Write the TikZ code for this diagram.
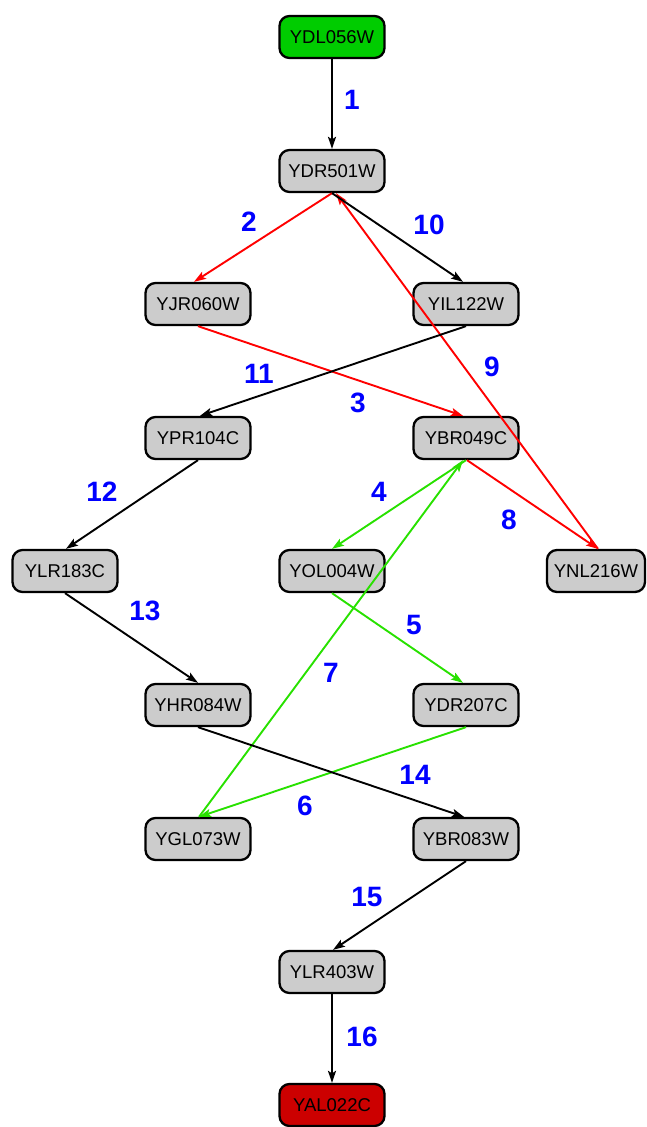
\documentclass[tikz,border=0pt]{standalone}
\usepackage{fontspec}
\setmainfont{Liberation Sans}
\usetikzlibrary{arrows.meta}
\definecolor{gfill}{RGB}{0,204,0}
\definecolor{rfill}{RGB}{204,0,0}
\definecolor{nfill}{RGB}{204,204,204}
\definecolor{gedge}{RGB}{40,225,0}
\definecolor{redge}{RGB}{255,0,0}
\definecolor{lblue}{RGB}{0,0,255}
\tikzset{
  gene/.style={draw=black, line width=2.3pt, fill=nfill, rounded corners=10pt,
    minimum width=105pt, minimum height=42pt, inner sep=0pt,
    font=\fontsize{18.5}{20}\selectfont},
  src/.style={gene, fill=gfill},
  dst/.style={gene, fill=rfill},
  link/.style={line width=1.9pt, -{Stealth[length=12pt,width=8pt,inset=2.5pt]}},
  black link/.style={link, draw=black},
  red link/.style={link, draw=redge},
  green link/.style={link, draw=gedge},
  num/.style={text=lblue, font=\fontsize{28}{30}\selectfont\bfseries}
}
\begin{document}
\begin{tikzpicture}[x=1pt, y=-1pt]
\useasboundingbox (0,0) rectangle (646,1127);

% genes
\node[src]  (ydl056w) at (332,37)   {YDL056W};
\node[gene] (ydr501w) at (332,171)  {YDR501W};
\node[gene] (yjr060w) at (198,304)  {YJR060W};
\node[gene] (yil122w) at (466,304)  {YIL122W};
\node[gene] (ypr104c) at (198,438)  {YPR104C};
\node[gene] (ybr049c) at (466,438)  {YBR049C};
\node[gene] (ylr183c) at (65,571)   {YLR183C};
\node[gene] (yol004w) at (332,571)  {YOL004W};
\node[gene, minimum width=98pt] (ynl216w) at (596,571) {YNL216W};
\node[gene] (yhr084w) at (198,705)  {YHR084W};
\node[gene] (ydr207c) at (466,705)  {YDR207C};
\node[gene] (ygl073w) at (198,839)  {YGL073W};
\node[gene] (ybr083w) at (466,839)  {YBR083W};
\node[gene] (ylr403w) at (332,972)  {YLR403W};
\node[dst]  (yal022c) at (332,1105) {YAL022C};

% pathway steps
\draw[black link] (ydl056w.south) -- (ydr501w.north);
\draw[red link]   (ydr501w.south) -- ([xshift=-4pt]yjr060w.north);
\draw[red link]   (yjr060w.south) -- ([xshift=-3pt]ybr049c.north);
\draw[green link] (ybr049c.south) -- (yol004w.north);
\draw[green link] (yol004w.south) -- ([xshift=-3pt]ydr207c.north);
\draw[green link] (ydr207c.south) -- ([xshift=1pt]ygl073w.north);
\draw[green link] ([xshift=1pt]ygl073w.north) -- ([xshift=-3pt]ybr049c.south);
\draw[red link]   ([xshift=1pt]ybr049c.south) -- ([xshift=2pt]ynl216w.north);
\draw[red link]   ([xshift=2pt]ynl216w.north) -- ([xshift=4pt]ydr501w.south);
\draw[black link] (ydr501w.south) -- ([xshift=-3pt]yil122w.north);
\draw[black link] (yil122w.south) -- ([xshift=2pt]ypr104c.north);
\draw[black link] (ypr104c.south) -- ([xshift=1pt]ylr183c.north);
\draw[black link] (ylr183c.south) -- (yhr084w.north);
\draw[black link] (yhr084w.south) -- ([xshift=-2pt]ybr083w.north);
\draw[black link] (ybr083w.south) -- ([xshift=1pt]ylr403w.north);
\draw[black link] (ylr403w.south) -- (yal022c.north);

% step numbers
\node[num] (n1)  at (352,100) {1};
\node[num] (n2)  at (249,222) {2};
\node[num] (n3)  at (358,403) {3};
\node[num] (n4)  at (379,492) {4};
\node[num] (n5)  at (414,625) {5};
\node[num] (n6)  at (305,806) {6};
\node[num] (n7)  at (331,673) {7};
\node[num] (n8)  at (509,520) {8};
\node[num] (n9)  at (492,367) {9};
\node[num] (n10) at (429,225) {10};
\node[num] (n11) at (259,374) {11};
\node[num] (n12) at (102,492) {12};
\node[num] (n13) at (145,611) {13};
\node[num] (n14) at (415,775) {14};
\node[num] (n15) at (367,897) {15};
\node[num] (n16) at (362,1037) {16};
\end{tikzpicture}
\end{document}
